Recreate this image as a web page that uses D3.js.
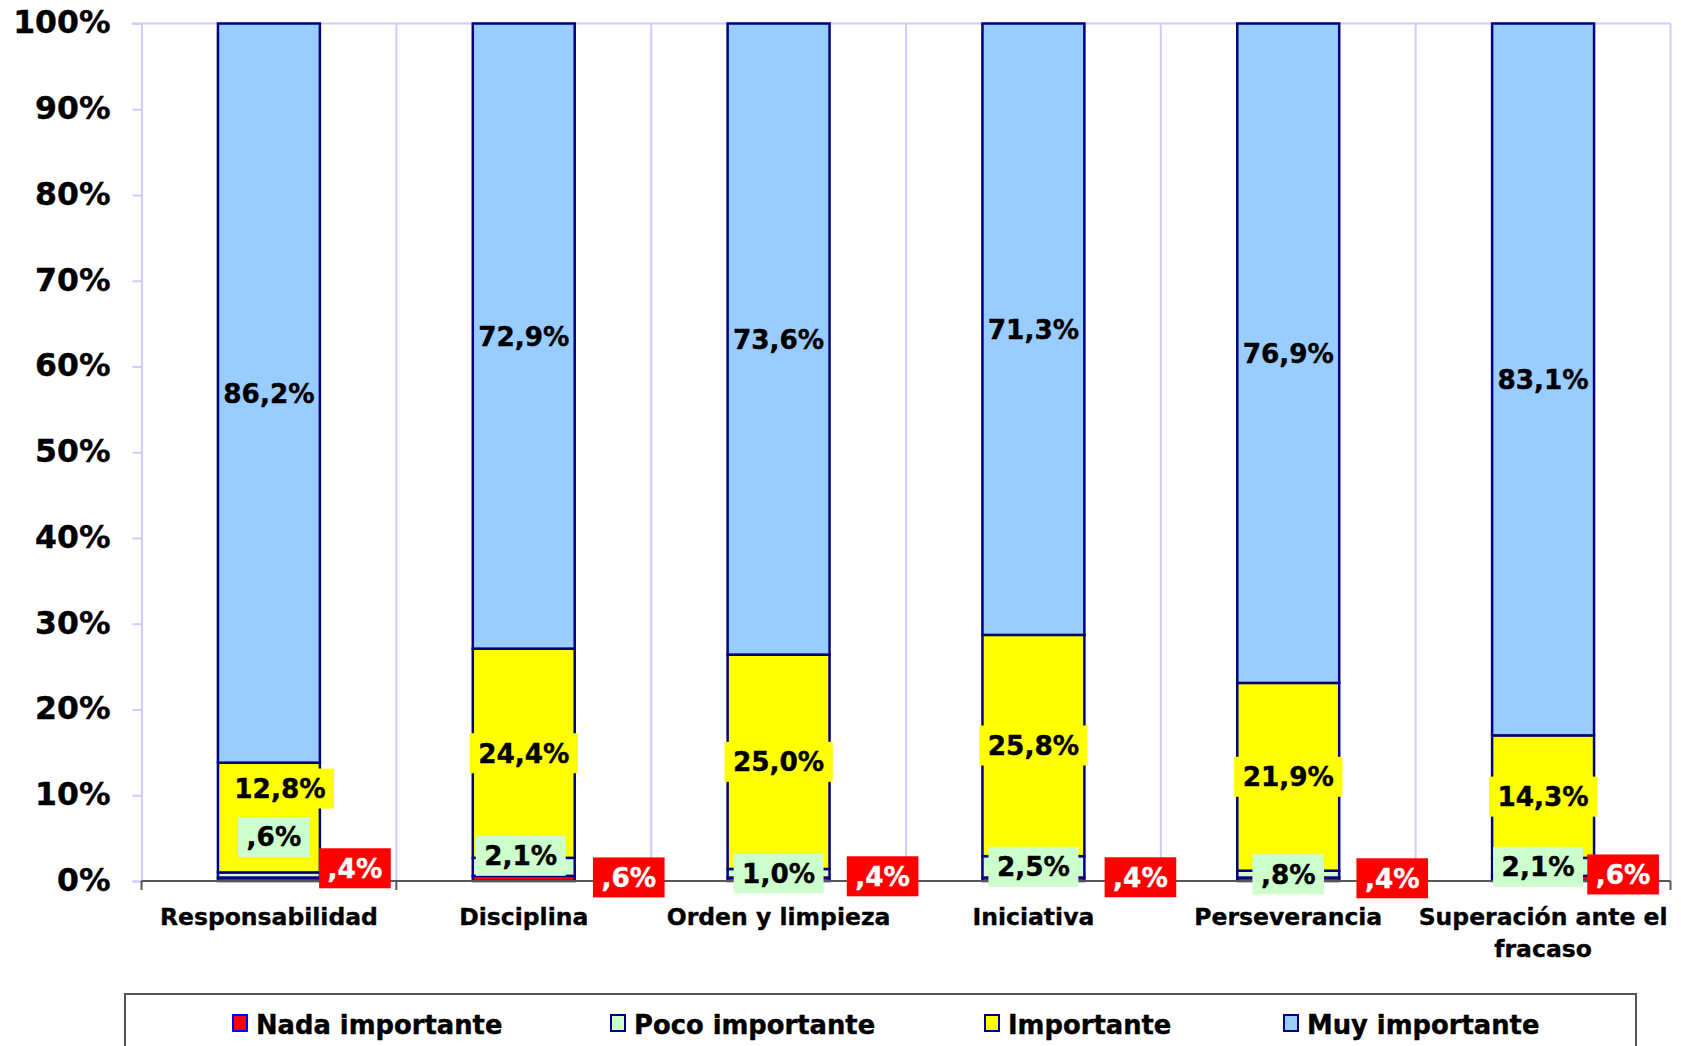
<!DOCTYPE html>
<html><head><meta charset="utf-8">
<script src="https://cdn.jsdelivr.net/npm/d3@7"></script>
<style>
html,body{margin:0;padding:0;background:#fff;}
svg{display:block;}
text{font-family:"DejaVu Sans",Verdana,sans-serif;font-weight:bold;}
</style></head>
<body>
<svg id="chart" width="1681" height="1046"></svg>
<script>
// ---- data ----
const categories = ["Responsabilidad","Disciplina","Orden y limpieza","Iniciativa","Perseverancia","Superación ante el fracaso"];
const seriesNames = ["Nada importante","Poco importante","Importante","Muy importante"];
const nada = [0.4,0.6,0.4,0.4,0.4,0.6];
const poco = [0.6,2.1,1.0,2.5,0.8,2.1];
const importante = [12.8,24.4,25.0,25.8,21.9,14.3];
const muy = [86.2,72.9,73.6,71.3,76.9,83.1];
const yTickValues = [0,0.1,0.2,0.3,0.4,0.5,0.6,0.7,0.8,0.9,1.0];

// ---- style config ----
const colors = {"Nada importante":"#ff0000","Poco importante":"#ccffcc","Importante":"#ffff00","Muy importante":"#99ccff"};
const labelBg = {"Nada importante":"#ff0000","Poco importante":"#ccffcc","Importante":"#ffff00","Muy importante":null};
const labelColor = {"Nada importante":"#ffffff","Poco importante":"#000000","Importante":"#000000","Muy importante":"#000000"};
// manual label offsets (px) as placed in the original
const labelDx = {"Nada importante":[86,105,104,107,104,80],"Poco importante":[5,-3,0,0,0,-5],"Importante":[11,0,0,0,0,0],"Muy importante":[0,0,0,0,0,0]};
const labelDy = {"Nada importante":[-11,-1,-3,-2,-1,-4],"Poco importante":[-38,-11,0,0,0,0],"Importante":[-29,0,0,0,0,0],"Muy importante":[0,0,0,0,0,0]};

const seriesValues = {"Nada importante":nada,"Poco importante":poco,"Importante":importante,"Muy importante":muy};
const table = categories.map((c,i)=>{const o={cat:c}; seriesNames.forEach(s=>o[s]=seriesValues[s][i]); return o;});

const L=141.5, R=1670.5, T=23.5, B=881;
const svg = d3.select("#chart");
svg.append("rect").attr("width",1681).attr("height",1046).attr("fill","#fff");

const x = d3.scaleBand().domain(categories).range([L,R]).paddingInner(0.6).paddingOuter(0.3);
const y = d3.scaleLinear().domain([0,1]).range([B,T]);
const step = x.step();
const grid = "#ccccff";

// vertical gridlines at category boundaries
const bounds = d3.range(categories.length+1).map(k=>L+step*k);
svg.append("g").selectAll("line").data(bounds.slice(1)).join("line")
  .attr("x1",d=>d).attr("x2",d=>d).attr("y1",T).attr("y2",B)
  .attr("stroke",grid).attr("stroke-width",2);
// top line
svg.append("line").attr("x1",132).attr("x2",R).attr("y1",T).attr("y2",T).attr("stroke",grid).attr("stroke-width",2);

// y axis
const yAxis = d3.axisLeft(y).tickValues(yTickValues).tickSize(9).tickPadding(0).tickFormat(d3.format(".0%"));
const ya = svg.append("g").attr("transform",`translate(${L},0)`).call(yAxis);
ya.select(".domain").attr("stroke",grid).attr("stroke-width",2);
ya.selectAll(".tick line").attr("stroke",grid).attr("stroke-width",2);
ya.selectAll(".tick text").attr("x",-31).attr("dy","0.3em").attr("font-size",31.5)
  .attr("font-family","'DejaVu Sans',Verdana,sans-serif").attr("font-weight","bold").attr("fill","#000")
  .attr("stroke","#000").attr("stroke-width",0.4);

// bars
const stack = d3.stack().keys(seriesNames).offset(d3.stackOffsetExpand);
const stacked = stack(table);
const bars = svg.append("g");
stacked.forEach(layer=>{
  bars.append("g").selectAll("rect").data(layer).join("rect")
    .attr("x",d=>x(d.data.cat)).attr("width",x.bandwidth())
    .attr("y",d=>y(d[1])).attr("height",d=>y(d[0])-y(d[1]))
    .attr("fill",colors[layer.key]).attr("stroke","#000080").attr("stroke-width",2.5);
});

// x axis
svg.append("line").attr("x1",L).attr("x2",R).attr("y1",B).attr("y2",B).attr("stroke","#555").attr("stroke-width",2);
svg.append("g").selectAll("line").data(bounds).join("line")
  .attr("x1",d=>d).attr("x2",d=>d).attr("y1",B).attr("y2",B+9).attr("stroke","#555").attr("stroke-width",2);

// category labels
const catG = svg.append("g");
categories.forEach(c=>{
  const t = catG.append("text").attr("x",x(c)+x.bandwidth()/2).attr("y",925)
    .attr("text-anchor","middle").attr("font-size",23.5).attr("fill","#000")
    .attr("stroke","#000").attr("stroke-width",0.35);
  const words = c.split(" ");
  let line=[], lines=[];
  const probe = t.append("tspan");
  words.forEach(w=>{
    const test=[...line,w].join(" ");
    probe.text(test);
    if(probe.node().getComputedTextLength()>step-2 && line.length){lines.push(line.join(" ")); line=[w];}
    else line.push(w);
  });
  lines.push(line.join(" "));
  probe.remove();
  lines.forEach((ln,i)=>t.append("tspan").attr("x",x(c)+x.bandwidth()/2).attr("dy",i?32:0).text(ln));
});

// value labels
const fmt = v=>{const s=d3.format(".1f")(v).replace(".",","); return (v<1?s.replace(/^0/,""):s)+"%";};
const labG = svg.append("g");
stacked.forEach(layer=>{
  const key=layer.key;
  layer.forEach((d,i)=>{
    const v = seriesValues[key][i];
    const cx = x(d.data.cat)+x.bandwidth()/2 + labelDx[key][i];
    const cy = (y(d[0])+y(d[1]))/2 + labelDy[key][i];
    const g = labG.append("g");
    const bg = g.append("rect");
    const t = g.append("text").attr("x",cx).attr("y",cy).attr("dy","0.36em")
      .attr("text-anchor","middle").attr("font-size",26.3).attr("fill",labelColor[key])
      .attr("stroke",labelColor[key]).attr("stroke-width",0.4).text(fmt(v));
    if(labelBg[key]){
      const w=t.node().getComputedTextLength()+17;
      bg.attr("x",cx-w/2).attr("y",cy-20).attr("width",w).attr("height",40).attr("fill",labelBg[key]);
    } else bg.remove();
  });
});

// legend
const lg = svg.append("g");
lg.append("rect").attr("x",125).attr("y",994).attr("width",1511).attr("height",80)
  .attr("fill","#fff").attr("stroke","#555").attr("stroke-width",2);
const legendX = [232,610,984,1283];
seriesNames.forEach((s,i)=>{
  lg.append("rect").attr("x",legendX[i]+1).attr("y",1015).attr("width",14).attr("height",16)
    .attr("fill",colors[s]).attr("stroke",i===0?"#0000ff":"#000080").attr("stroke-width",2);
  lg.append("text").attr("x",legendX[i]+24).attr("y",1034).attr("font-size",25.8).attr("fill","#000")
    .attr("stroke","#000").attr("stroke-width",0.4).text(s);
});
</script>
</body></html>
